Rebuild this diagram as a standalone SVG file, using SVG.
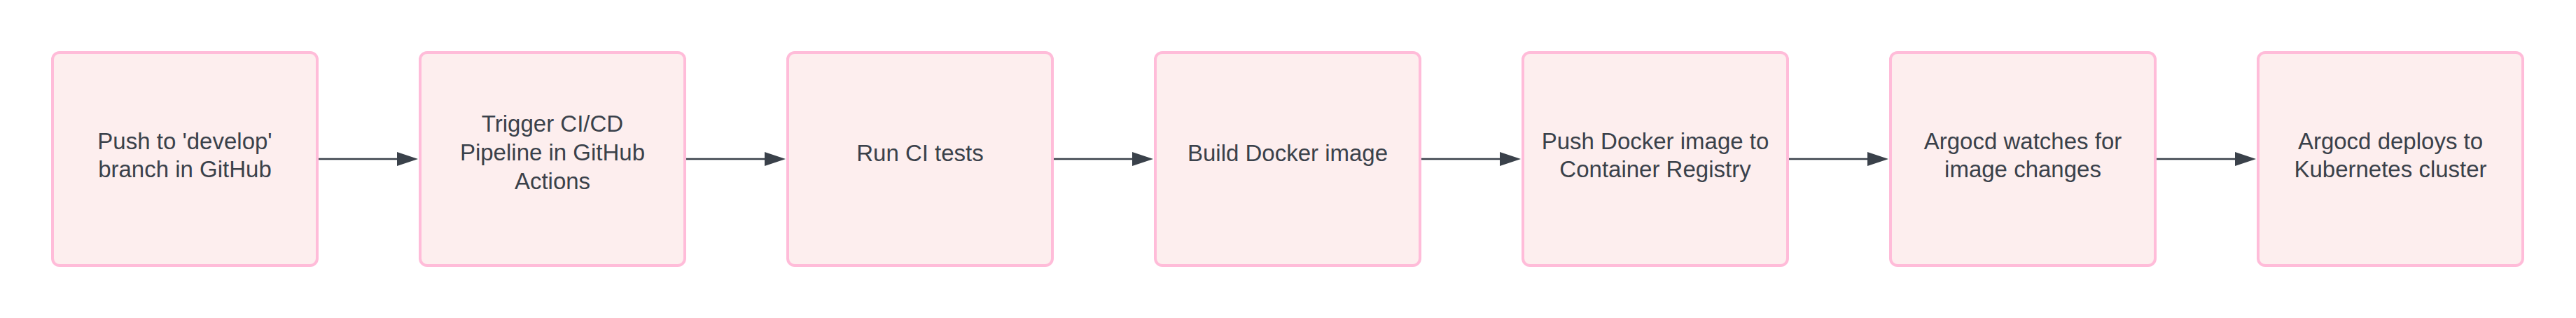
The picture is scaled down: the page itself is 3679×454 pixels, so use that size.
<svg xmlns="http://www.w3.org/2000/svg" width="3679" height="454" viewBox="0 0 3679 454">
<style>
.box{fill:#fdeeee;stroke:#ffbcd9;stroke-width:4}
.lbl{font-family:"Liberation Sans",Arial,sans-serif;font-size:33px;fill:#3a414a;text-anchor:middle}
.edge{stroke:#3a414a;stroke-width:2.3;fill:none}
.head{fill:#3a414a}
</style>
<rect width="3679" height="454" fill="#ffffff"/>
<g id="connectors">
<line class="edge" x1="455" y1="227" x2="569" y2="227"/><polygon class="head" points="567,217 597,227 567,237"/>
<line class="edge" x1="980" y1="227" x2="1094" y2="227"/><polygon class="head" points="1092,217 1122,227 1092,237"/>
<line class="edge" x1="1505" y1="227" x2="1619" y2="227"/><polygon class="head" points="1617,217 1647,227 1617,237"/>
<line class="edge" x1="2030" y1="227" x2="2144" y2="227"/><polygon class="head" points="2142,217 2172,227 2142,237"/>
<line class="edge" x1="2555" y1="227" x2="2669" y2="227"/><polygon class="head" points="2667,217 2697,227 2667,237"/>
<line class="edge" x1="3080" y1="227" x2="3194" y2="227"/><polygon class="head" points="3192,217 3222,227 3192,237"/>
</g>
<g id="n1"><rect class="box" x="75" y="75" width="378" height="304" rx="10"/><text class="lbl" x="264" y="213">Push to 'develop'</text><text class="lbl" x="264" y="253">branch in GitHub</text></g>
<g id="n2"><rect class="box" x="600" y="75" width="378" height="304" rx="10"/><text class="lbl" x="789" y="188">Trigger CI/CD</text><text class="lbl" x="789" y="229">Pipeline in GitHub</text><text class="lbl" x="789" y="270">Actions</text></g>
<g id="n3"><rect class="box" x="1125" y="75" width="378" height="304" rx="10"/><text class="lbl" x="1314" y="230">Run CI tests</text></g>
<g id="n4"><rect class="box" x="1650" y="75" width="378" height="304" rx="10"/><text class="lbl" x="1839" y="230">Build Docker image</text></g>
<g id="n5"><rect class="box" x="2175" y="75" width="378" height="304" rx="10"/><text class="lbl" x="2364" y="213">Push Docker image to</text><text class="lbl" x="2364" y="253">Container Registry</text></g>
<g id="n6"><rect class="box" x="2700" y="75" width="378" height="304" rx="10"/><text class="lbl" x="2889" y="213">Argocd watches for</text><text class="lbl" x="2889" y="253">image changes</text></g>
<g id="n7"><rect class="box" x="3225" y="75" width="378" height="304" rx="10"/><text class="lbl" x="3414" y="213">Argocd deploys to</text><text class="lbl" x="3414" y="253">Kubernetes cluster</text></g>
</svg>
